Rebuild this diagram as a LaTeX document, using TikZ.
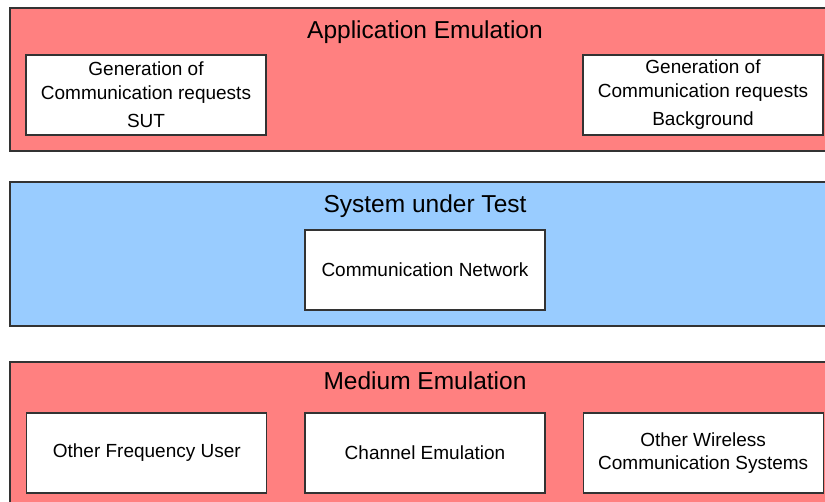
\documentclass[tikz,border=0pt]{standalone}
\usepackage{fontspec}
\setmainfont{Liberation Sans}
\usetikzlibrary{calc, positioning}

\definecolor{emured}{HTML}{FF8080}
\definecolor{sutblue}{HTML}{99CCFF}
\definecolor{edge}{HTML}{333333}

\begin{document}
\begin{tikzpicture}[x=1pt, y=-1pt,
    layer/.style={draw=edge, line width=1.3pt, minimum width=830pt, inner sep=0pt},
    block/.style={draw=edge, fill=white, line width=1.2pt, minimum width=240pt, minimum height=80pt, inner sep=0pt, align=center, font=\fontsize{19}{23.5}\selectfont},
    heading/.style={font=\fontsize{24.5}{28}\selectfont}]
            \useasboundingbox (0, 0) rectangle (825, 502);
            \clip (0, 0) rectangle (825, 502);
            % layers
            \node[layer, fill=emured, minimum height=143pt] (app) at (425, 79.5) {};
            \node[layer, fill=sutblue, minimum height=144pt] (sut) at (425, 254) {};
            \node[layer, fill=emured, minimum height=148pt] (medium) at (425, 436) {};
            \node[heading] (apptitle) at (425, 32) {Application Emulation};
            \node[heading] (suttitle) at (425, 206) {System under Test};
            \node[heading] (medtitle) at (425, 381) {Medium Emulation};
            % application emulation
            \node[block] (gensut) at (146, 95) {Generation of\\Communication requests\\[5pt]SUT};
            \node[block] (genbg) at (703, 95) {Generation of\\Communication requests\\[5pt]Background};
            % system under test
            \node[block] (net) at ($(suttitle) + (0, 64)$) {Communication Network};
            % medium emulation
            \node[block] (channel) at ($(medtitle) + (0, 72)$) {Channel Emulation};
            \node[block, left=37pt of channel] (freq) {Other Frequency User};
            \node[block, right=37pt of channel] (wireless) {Other Wireless\\Communication Systems};
        \end{tikzpicture}
\end{document}
